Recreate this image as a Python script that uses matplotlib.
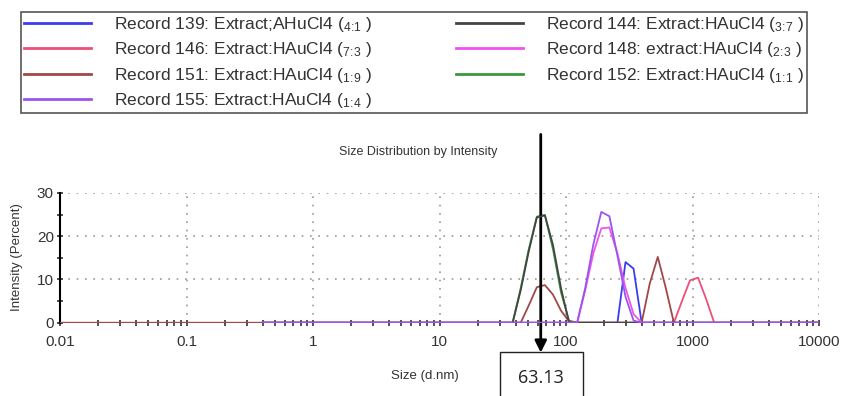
import numpy as np
import matplotlib.pyplot as plt
from matplotlib.patches import Rectangle

plt.rcParams['font.family'] = ['Liberation Sans', 'DejaVu Sans']
plt.rcParams['mathtext.fontset'] = 'custom'
plt.rcParams['mathtext.rm'] = 'Liberation Sans'

# legend order: column 1 then column 2
labels = [
    r"Record 139: Extract;AHuCl4 ($\mathregular{_{4\!:\!1}}$ )",
    r"Record 146: Extract:HAuCl4 ($\mathregular{_{7\!:\!3}}$ )",
    r"Record 151: Extract:HAuCl4 ($\mathregular{_{1\!:\!9}}$ )",
    r"Record 155: Extract:HAuCl4 ($\mathregular{_{1\!:\!4}}$ )",
    r"Record 144: Extract:HAuCl4 ($\mathregular{_{3\!:\!7}}$ )",
    r"Record 148: extract:HAuCl4 ($\mathregular{_{2\!:\!3}}$ )",
    r"Record 152: Extract:HAuCl4 ($\mathregular{_{1\!:\!1}}$ )",
]
colors = ["#3b3bf0", "#ee4f78", "#a04848", "#9a55ee", "#444444", "#f050f0", "#3a9a3a"]

# size (d.nm) and intensity (%) for each record
size_139 = [0.4, 255.0, 295.3, 342.0, 396.1, 10000]
int_139 = [0, 0, 14.0, 12.5, 0, 0]

size_146 = [0.4, 712.4, 825.0, 955.4, 1106, 1281, 1484, 10000]
int_146 = [0, 0, 5.0, 9.8, 10.4, 5.5, 0, 0]

size_151 = [0.01, 43.82, 50.75, 58.77, 68.06, 78.82, 91.28, 105.7, 122.4,
            396.1, 458.7, 531.2, 615.1, 712.4, 10000]
int_151 = [0, 0, 4.0, 8.2, 8.7, 6.5, 2.8, 0.3, 0,
           0, 9.0, 15.2, 8.0, 0, 0]

size_155 = [0.4, 122.4, 141.8, 164.2, 190.1, 220.2, 255.0, 295.3, 342.0, 396.1, 10000]
int_155 = [0, 0, 8.0, 18.0, 25.6, 24.6, 15.5, 6.0, 0.5, 0, 0]

size_144 = [0.4, 37.84, 43.82, 50.75, 58.77, 68.06, 78.82, 91.28, 105.7, 10000]
int_144 = [0, 0, 7.5, 16.5, 24.3, 24.8, 18.0, 8.0, 0, 0]

size_148 = [0.4, 122.4, 141.8, 164.2, 190.1, 220.2, 255.0, 295.3, 342.0, 396.1, 10000]
int_148 = [0, 0, 7.5, 16.0, 21.8, 22.0, 16.0, 8.0, 2.0, 0, 0]

size_152 = [0.4, 37.84, 43.82, 50.75, 58.77, 68.06, 78.82, 91.28, 105.7, 122.4, 10000]
int_152 = [0, 0, 8.0, 17.0, 24.5, 24.9, 17.0, 7.0, 0.5, 0, 0]

sizes = [size_139, size_146, size_151, size_155, size_144, size_148, size_152]
ints = [int_139, int_146, int_151, int_155, int_144, int_148, int_152]
zorders = [3, 3, 3, 6, 4, 5, 2]

peak_size = 63.13

fig = plt.figure(figsize=(8.42, 3.96), dpi=100)
ax = fig.add_axes([0.0713, 0.185, 0.9014, 0.328])

lines = []
for s, y, c, lab, z in zip(sizes, ints, colors, labels, zorders):
    l, = ax.plot(s, y, color=c, lw=1.3, label=lab, zorder=z)
    lines.append(l)

ax.set_xscale('log')
ax.set_xlim(0.01, 10000)
ax.set_ylim(0, 30)
ax.set_yticks([0, 10, 20, 30])
ax.set_yticks([5, 15, 25], minor=True)
ax.set_xticks([0.01, 0.1, 1, 10, 100, 1000, 10000])
ax.set_xticklabels(["0.01", "0.1", "1", "10", "100", "1000", "10000"])
ax.grid(True, which='major', color='#999999', ls=(0, (1, 4)), lw=1.2)
for sp in ['top', 'right', 'bottom']:
    ax.spines[sp].set_visible(False)
ax.spines['left'].set_linewidth(1.5)
ax.tick_params(axis='both', which='both', direction='inout', length=5, width=1.2,
               labelsize=11, colors='#333333')
ax.tick_params(axis='x', which='major', pad=6)
ax.tick_params(axis='y', which='major', pad=2)

fig.text(0.497, 0.615, "Size Distribution by Intensity", ha='center', va='center',
         fontsize=9, color='#333333')
fig.text(0.505, 0.05, "Size (d.nm)", ha='center', va='center', fontsize=9.5,
         color='#333333')
fig.text(0.02, 0.35, "Intensity (Percent)", rotation=90, ha='center', va='center',
         fontsize=9.5, color='#333333')

# marker arrow at the peak size
ax.annotate('', xy=(peak_size, -0.23), xytext=(peak_size, 1.45),
            xycoords=('data', 'axes fraction'), textcoords=('data', 'axes fraction'),
            arrowprops=dict(arrowstyle='-|>,head_length=0.7,head_width=0.35',
                            color='black', lw=2, shrinkA=0, shrinkB=0),
            annotation_clip=False)
fig.add_artist(Rectangle((500 / 842, -0.02), 83 / 842, 0.13, transform=fig.transFigure,
                         fill=False, edgecolor='#222222', lw=1))
fig.text(541 / 842, 0.045, f"{peak_size:.2f}", ha='center', va='center', fontsize=13,
         color='#222222', family=['Open Sans', 'DejaVu Sans'])

leg = fig.legend(handles=lines, loc='upper left', ncol=2, mode='expand',
                 bbox_to_anchor=(21 / 842, 1 - 107 / 396, 786 / 842, 95 / 396),
                 fontsize=12.5, handlelength=3.9, handletextpad=1.3, labelspacing=0.38,
                 frameon=True, fancybox=False, borderaxespad=0, borderpad=0.15,
                 framealpha=1)
leg.get_frame().set_edgecolor('#555555')
leg.get_frame().set_linewidth(1.2)
for t in leg.get_texts():
    t.set_color('#333333')
for h in leg.legend_handles:
    h.set_linewidth(2)

fig.savefig("out.png", dpi=100)
